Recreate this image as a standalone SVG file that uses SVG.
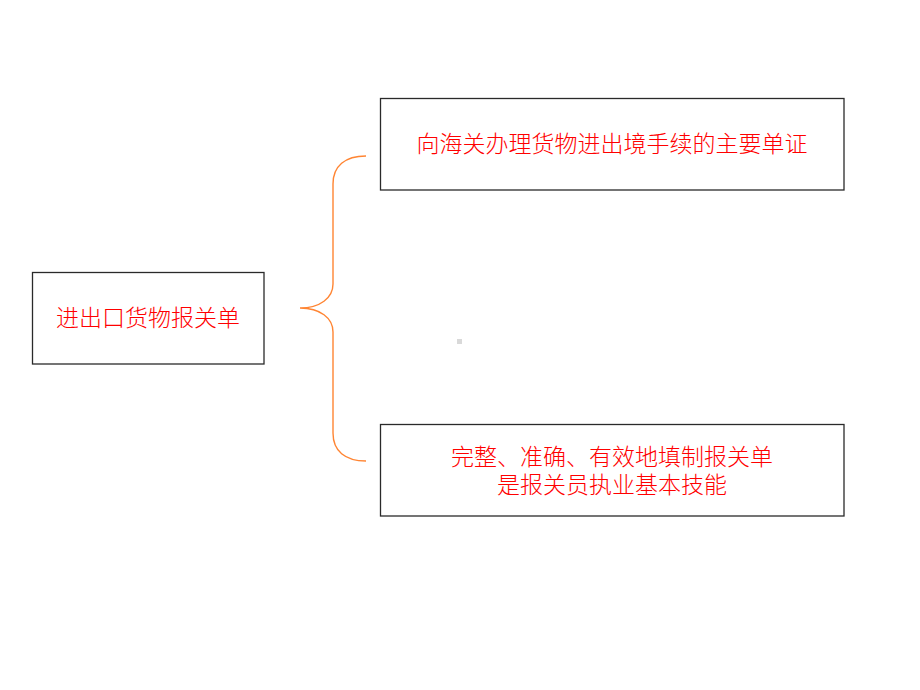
<svg xmlns="http://www.w3.org/2000/svg" width="920" height="690" viewBox="0 0 920 690">
<style>
.box{fill:#fff;stroke:#2a2a2a;stroke-width:1.3}
.t{font-family:"Liberation Serif","Noto Sans CJK SC",serif;font-size:23px;font-weight:300;fill:#ff0000;text-anchor:middle;dominant-baseline:central}
.brace{fill:none;stroke:#ff8533;stroke-width:1.4}
</style>
<rect width="920" height="690" fill="#fff"/>
<g id="connectors">
<path class="brace" d="M366,156 C345,156 333,166 333,184 L333,284 C333,298 320,308 300,308 C320,308 333,318 333,332 L333,433 C333,451 345,461 366,461"/>
</g>
<g id="node-left">
<rect class="box" x="32.5" y="272.5" width="231.5" height="91.5"/>
<text class="t" x="148" y="318">进出口货物报关单</text>
</g>
<g id="node-top">
<rect class="box" x="380.5" y="98.5" width="463.5" height="91.5"/>
<text class="t" x="612" y="144">向海关办理货物进出境手续的主要单证</text>
</g>
<g id="node-bottom">
<rect class="box" x="380.5" y="424.5" width="463.5" height="91.5"/>
<text class="t" x="612" y="457">完整、准确、有效地填制报关单</text>
<text class="t" x="612" y="485">是报关员执业基本技能</text>
</g>
<rect x="457" y="339" width="5" height="5" fill="#d9d9d9"/>
</svg>
